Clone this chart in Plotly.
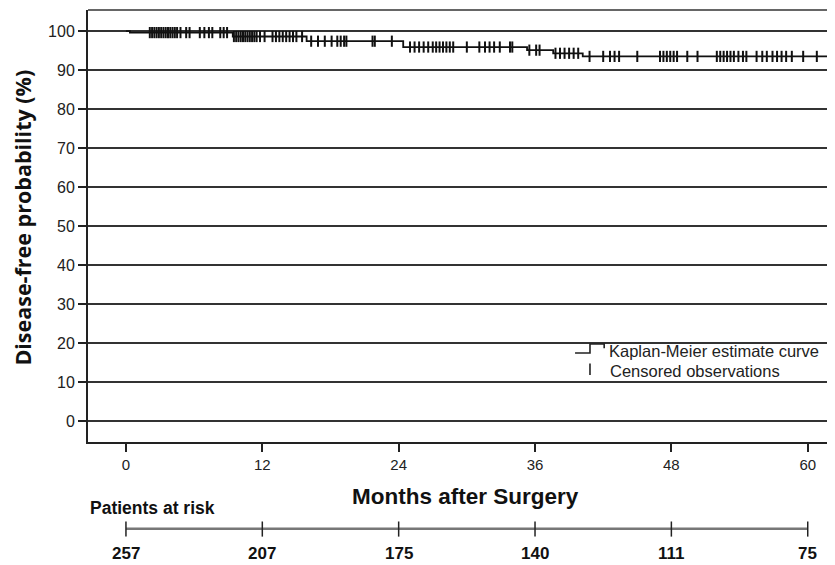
import plotly.graph_objects as go

# Kaplan-Meier step curve (months, disease-free %)
km_time = [0, 0.35, 9.4, 15.9, 24.4, 35.3, 37.6, 40.2, 62.5]
km_surv = [100, 99.6, 98.6, 97.4, 95.9, 95.1, 94.3, 93.5, 93.5]

# Censored observations (months)
censor_time = [2.1, 2.3, 2.5, 2.7, 2.9, 3.1, 3.3, 3.5, 3.7, 3.9, 4.1, 4.3, 4.5,
               4.8, 5.3, 5.6, 6.5, 6.9, 7.3, 7.6, 8.3, 8.6, 8.9,
               9.5, 9.7, 9.9, 10.1, 10.3, 10.5, 10.7, 10.9, 11.1, 11.3, 11.5,
               11.8, 12.2, 12.9, 13.2, 13.5, 13.8, 14.1, 14.4, 14.7, 15.0, 15.5,
               16.3, 16.9, 17.5, 18.1, 18.6, 18.9, 19.2, 19.4, 21.7, 21.9, 23.4,
               25.0, 25.4, 25.8, 26.2, 26.6, 27.0, 27.3, 27.6, 27.9, 28.2, 28.5, 28.8,
               30.0, 31.1, 31.6, 32.0, 32.4, 32.9, 33.8, 34.0, 35.5, 36.1, 36.4,
               37.8, 38.2, 38.6, 39.0, 39.4, 39.8, 40.8, 42.0, 42.6, 43.0, 43.4, 45.0,
               47.0, 47.3, 47.6, 47.9, 48.2, 48.5, 49.4, 50.3,
               52.0, 52.3, 52.6, 52.9, 53.2, 53.5, 53.9, 54.3, 54.6,
               55.5, 56.0, 56.4, 56.9, 57.3, 57.7, 58.1, 58.6, 59.6, 60.8, 62.0]

# Patients at risk
risk_time = [0, 12, 24, 36, 48, 60]
risk_n = [257, 207, 175, 140, 111, 75]

x_ticks = [0, 12, 24, 36, 48, 60]
y_ticks = [0, 10, 20, 30, 40, 50, 60, 70, 80, 90, 100]


def surv_at(t):
    s = km_surv[0]
    for tt, ss in zip(km_time, km_surv):
        if tt <= t:
            s = ss
    return s


censor_surv = [surv_at(t) for t in censor_time]

fig = go.Figure()
fig.add_trace(go.Scatter(x=km_time, y=km_surv, mode="lines", line_shape="hv",
                         line=dict(color="#111111", width=1.8), showlegend=False))
fig.add_trace(go.Scatter(x=censor_time, y=censor_surv, mode="markers",
                         marker=dict(symbol="line-ns", size=8,
                                     line=dict(color="#111111", width=2)),
                         showlegend=False))

ARIAL = "Liberation Sans, Arial"

fig.update_layout(
    width=835, height=565,
    margin=dict(l=80, r=8, t=2, b=131),
    plot_bgcolor="white", paper_bgcolor="white",
    showlegend=False,
    xaxis=dict(range=[-3.34, 62.4], tickvals=x_ticks, ticks="outside", ticklen=8,
               tickwidth=1.5, tickcolor="#222", showgrid=False, zeroline=False,
               showline=True, linecolor="#222", linewidth=2,
               tickfont=dict(family=ARIAL, size=15, color="#222")),
    yaxis=dict(range=[-5.4, 105.4], tickvals=y_ticks, ticks="outside", ticklen=8,
               tickwidth=1.5, tickcolor="#222", showgrid=True, gridcolor="#333333",
               gridwidth=1.6, zeroline=False, showline=True, linecolor="#222",
               linewidth=2, tickfont=dict(family=ARIAL, size=16, color="#222")),
)

shapes = [
    # top frame line
    dict(type="line", xref="paper", yref="paper", x0=0, x1=1, y0=1, y1=1,
         line=dict(color="#333", width=1.6)),
    # risk table baseline
    dict(type="line", xref="x", yref="paper", x0=risk_time[0], x1=risk_time[-1],
         y0=-0.201, y1=-0.201, line=dict(color="#777", width=2.5)),
    # legend step icon
    dict(type="path", xref="paper", yref="paper",
         path="M 0.652,0.206 L 0.672,0.206 L 0.672,0.227 L 0.691,0.227 L 0.691,0.217",
         line=dict(color="#222", width=1.6)),
    dict(type="line", xref="paper", yref="paper", x0=0.672, x1=0.672,
         y0=0.155, y1=0.182, line=dict(color="#222", width=1.6)),
]
for t in risk_time:
    shapes.append(dict(type="line", xref="x", yref="paper", x0=t, x1=t,
                       y0=-0.184, y1=-0.219, line=dict(color="#222", width=1.5)))
fig.update_layout(shapes=shapes)

annotations = [
    dict(text="<b>Disease-free probability (%)</b>", xref="paper", yref="paper",
         x=-0.088, y=0.52, xanchor="center", yanchor="middle", textangle=-90,
         showarrow=False,
         font=dict(family="Open Sans, Liberation Sans", size=21.5, color="#111")),
    dict(text="<b>Months after Surgery</b>", xref="paper", yref="paper",
         x=0.505, y=-0.127, xanchor="center", yanchor="middle", showarrow=False,
         font=dict(family=ARIAL, size=22.5, color="#111")),
    dict(text="<b>Patients at risk</b>", xref="paper", yref="paper",
         x=0.0, y=-0.153, xanchor="left", yanchor="middle", showarrow=False,
         font=dict(family=ARIAL, size=17.5, color="#111")),
    dict(text="Kaplan-Meier estimate curve", xref="paper", yref="paper",
         x=0.695, y=0.211, xanchor="left", yanchor="middle", showarrow=False,
         font=dict(family=ARIAL, size=16.5, color="#222")),
    dict(text="Censored observations", xref="paper", yref="paper",
         x=0.696, y=0.164, xanchor="left", yanchor="middle", showarrow=False,
         font=dict(family=ARIAL, size=16.5, color="#222")),
]
for t, n in zip(risk_time, risk_n):
    annotations.append(dict(text="<b>%d</b>" % n, xref="x", yref="paper", x=t,
                            y=-0.257, xanchor="center", yanchor="middle",
                            showarrow=False,
                            font=dict(family=ARIAL, size=17, color="#111")))
fig.update_layout(annotations=annotations)

fig.write_html("out.html")
